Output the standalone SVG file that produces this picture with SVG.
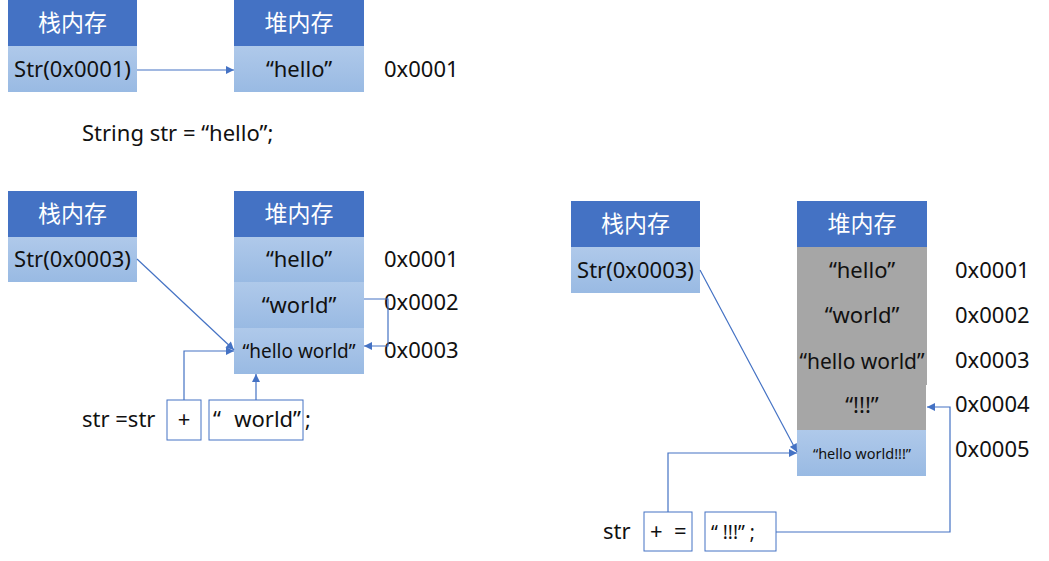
<svg xmlns="http://www.w3.org/2000/svg" width="1049" height="561" viewBox="0 0 1049 561">
<defs>
<linearGradient id="cell" x1="0" y1="0" x2="0" y2="1">
<stop offset="0" stop-color="#afc9ea"/>
<stop offset="1" stop-color="#99bae3"/>
</linearGradient>
<marker id="ah" viewBox="0 0 10 10" refX="10" refY="5" markerWidth="9" markerHeight="8" markerUnits="userSpaceOnUse" orient="auto">
<path d="M0,0 L10,5 L0,10 z" fill="#4472c4"/>
</marker>
<style>
.hd{fill:#4472c4}
.cl{fill:url(#cell)}
.gr{fill:#a6a6a6}
text{font-family:"Noto Sans","Noto Sans CJK SC",sans-serif;fill:#111}
.ht{fill:#fff;font-size:23px;text-anchor:middle;font-family:"Noto Sans CJK SC",sans-serif}
.ct{font-size:22px;text-anchor:middle}
.t{font-size:22px}
.bx{fill:#fff;stroke:#4472c4;stroke-width:1}
.cn{fill:none;stroke:#4472c4;stroke-width:1.2}
</style>
</defs>

<g id="stack1">
<rect class="hd" x="8" y="0" width="129" height="46"/>
<text class="ht" x="72.5" y="31">栈内存</text>
<rect class="cl" x="8" y="46" width="129" height="46"/>
<text class="ct" x="72.5" y="77">Str(0x0001)</text>
</g>
<g id="heap1">
<rect class="hd" x="234" y="0" width="130" height="46"/>
<text class="ht" x="299" y="31">堆内存</text>
<rect class="cl" x="234" y="46" width="130" height="46"/>
<text class="ct" x="299" y="77">“hello”</text>
</g>
<g id="addr1"><text class="t" x="384" y="77">0x0001</text></g>
<g id="code1"><text class="t" x="82" y="141">String str = “hello”;</text></g>

<g id="stack2">
<rect class="hd" x="8" y="191" width="129" height="46"/>
<text class="ht" x="72.5" y="222">栈内存</text>
<rect class="cl" x="8" y="237" width="129" height="45"/>
<text class="ct" x="72.5" y="267">Str(0x0003)</text>
</g>
<g id="heap2">
<rect class="hd" x="234" y="191" width="130" height="46"/>
<text class="ht" x="299" y="222">堆内存</text>
<rect class="cl" x="234" y="237" width="130" height="45"/>
<text class="ct" x="299" y="267">“hello”</text>
<rect class="cl" x="234" y="282" width="130" height="46"/>
<text class="ct" x="299" y="313">“world”</text>
<rect class="cl" x="234" y="328" width="130" height="46"/>
<text class="ct" x="299" y="358" style="font-size:19px">“hello world”</text>
</g>
<g id="addr2">
<text class="t" x="384" y="267">0x0001</text>
<text class="t" x="384" y="310">0x0002</text>
<text class="t" x="384" y="358">0x0003</text>
</g>
<g id="code2">
<text class="t" x="82" y="427">str =str</text>
<rect class="bx" x="167" y="400" width="34" height="40"/>
<text class="ct" x="184" y="427">+</text>
<rect class="bx" x="209" y="400" width="94" height="40"/>
<text class="t" x="213" y="427">“</text>
<text class="t" x="301" y="427" text-anchor="end">world”</text>
<text class="t" x="305" y="427">;</text>
</g>

<g id="stack3">
<rect class="hd" x="571" y="201" width="129" height="46"/>
<text class="ht" x="635.5" y="232">栈内存</text>
<rect class="cl" x="571" y="247" width="129" height="46"/>
<text class="ct" x="635.5" y="278">Str(0x0003)</text>
</g>
<g id="heap3">
<rect class="hd" x="797" y="201" width="130" height="46"/>
<text class="ht" x="862" y="232">堆内存</text>
<rect class="gr" x="797" y="247" width="130" height="138"/>
<rect class="gr" x="797" y="385" width="129" height="45"/>
<text class="ct" x="862" y="278">“hello”</text>
<text class="ct" x="862" y="323">“world”</text>
<text class="ct" x="862" y="369" style="font-size:21px">“hello world”</text>
<text class="ct" x="862" y="413">“!!!”</text>
<rect class="cl" x="797" y="430" width="129" height="46"/>
<text class="ct" x="862" y="459" style="font-size:14.5px">“hello world!!!”</text>
</g>
<g id="addr3">
<text class="t" x="955" y="278">0x0001</text>
<text class="t" x="955" y="323">0x0002</text>
<text class="t" x="955" y="368">0x0003</text>
<text class="t" x="955" y="412">0x0004</text>
<text class="t" x="955" y="457">0x0005</text>
</g>
<g id="code3">
<text class="t" x="603" y="539">str</text>
<rect class="bx" x="644" y="512" width="48" height="39"/>
<text class="t" x="650" y="539" xml:space="preserve">+  =</text>
<rect class="bx" x="705" y="512" width="71" height="39"/>
<text class="t" x="711" y="539" xml:space="preserve" style="font-size:19px">“ !!!” ;</text>
</g>

<g id="connectors">
<line class="cn" x1="137" y1="70" x2="234" y2="70" marker-end="url(#ah)"/>
<line class="cn" x1="137" y1="259" x2="234" y2="350" marker-end="url(#ah)"/>
<polyline class="cn" points="364,299 388,299 388,346 364,346" marker-end="url(#ah)"/>
<polyline class="cn" points="184,400 184,351 234,351" marker-end="url(#ah)"/>
<line class="cn" x1="256" y1="400" x2="256" y2="374" marker-end="url(#ah)"/>
<line class="cn" x1="700" y1="270" x2="797" y2="452" marker-end="url(#ah)"/>
<polyline class="cn" points="668,512 668,453 797,453" marker-end="url(#ah)"/>
<polyline class="cn" points="776,532 950,532 950,407 927,407" marker-end="url(#ah)"/>
</g>
</svg>
